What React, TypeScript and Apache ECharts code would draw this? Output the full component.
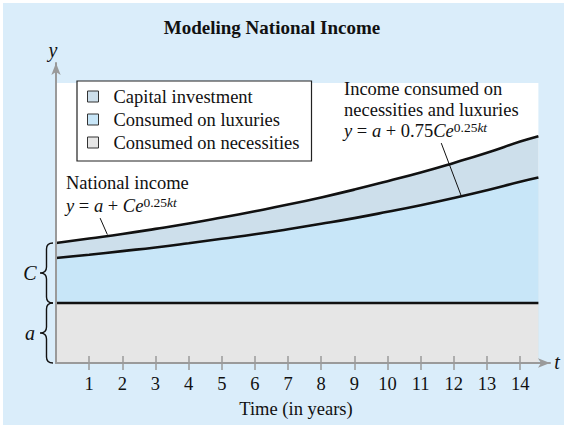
import React, { useEffect, useRef } from "react";
import * as echarts from "echarts";

// ---- data (y in arbitrary units, a = 2) ----
const years = [0, 1, 2, 3, 4, 5, 6, 7, 8, 9, 10, 11, 12, 13, 14, 14.55];
const nationalIncome = [4.0, 4.15, 4.3, 4.47, 4.65, 4.85, 5.06, 5.28, 5.52, 5.78, 6.06, 6.35, 6.67, 7.01, 7.38, 7.56];
const consumedIncome = [3.5, 3.61, 3.73, 3.85, 3.99, 4.14, 4.29, 4.46, 4.64, 4.83, 5.04, 5.26, 5.5, 5.76, 6.04, 6.18];
const necessitiesIncome = [2, 2, 2, 2, 2, 2, 2, 2, 2, 2, 2, 2, 2, 2, 2, 2];
const tickYears = [1, 2, 3, 4, 5, 6, 7, 8, 9, 10, 11, 12, 13, 14];
const seriesNames = ["Capital investment", "Consumed on luxuries", "Consumed on necessities"];
const constantA = 2;

const FONT = "'Liberation Serif', 'Times New Roman', serif";
const COL_CAPITAL = "#cddfeb";
const COL_LUX = "#c8e6f8";
const COL_NEC = "#e6e6e6";
const AXIS_COL = "#9a9a9a";
const INK = "#111";
const FS = 18.5;

const X_MAX = 14.9;
const Y_MAX = 10;
const PLOT_X_MAX = 14.55;
const PLOT_Y_MAX = 9.33;

function pairs(xs: number[], ys: number[]) {
  return xs.map((x, i) => [x, ys[i]]);
}

export default function App() {
  const ref = useRef<HTMLDivElement>(null);

  useEffect(() => {
    if (!ref.current) return;
    const chart = echarts.init(ref.current, undefined, { renderer: "svg" });

    const lineBase = {
      type: "line",
      smooth: true,
      symbol: "none",
      lineStyle: { color: INK, width: 2.6 },
    };

    chart.setOption({
      animation: false,
      backgroundColor: "transparent",
      grid: { left: 56, right: 14, top: 63, bottom: 62 },
      legend: {
        left: 77,
        top: 81,
        orient: "vertical",
        backgroundColor: "#ffffff",
        borderColor: "#222",
        borderWidth: 1.2,
        borderRadius: 0,
        padding: [6, 12, 9, 10],
        itemGap: 4,
        itemWidth: 11,
        itemHeight: 11,
        selectedMode: false,
        textStyle: { fontFamily: FONT, fontSize: FS, color: INK, padding: [0, 0, 0, 10], lineHeight: 19 },
        data: [
          { name: seriesNames[0], icon: "rect", itemStyle: { color: COL_CAPITAL, borderColor: "#333", borderWidth: 1 } },
          { name: seriesNames[1], icon: "rect", itemStyle: { color: COL_LUX, borderColor: "#333", borderWidth: 1 } },
          { name: seriesNames[2], icon: "rect", itemStyle: { color: COL_NEC, borderColor: "#333", borderWidth: 1 } },
        ],
      },
      xAxis: [
        {
          type: "value",
          min: 0,
          max: X_MAX,
          interval: 1,
          z: 10,
          splitLine: { show: false },
          axisLine: {
            show: true,
            lineStyle: { color: AXIS_COL, width: 2 },
            symbol: ["none", "arrow"],
            symbolSize: [7, 12],
          },
          axisTick: { show: true, customValues: tickYears, length: 7, lineStyle: { color: AXIS_COL, width: 1.5 } },
          axisLabel: { show: true, customValues: tickYears, margin: 11, fontFamily: FONT, fontSize: FS, color: INK },
        },
        {
          type: "value",
          min: 0,
          max: X_MAX,
          interval: 1,
          position: "bottom",
          z: 10,
          splitLine: { show: false },
          axisLine: { show: false },
          axisTick: { show: true, inside: true, customValues: tickYears, length: 7, lineStyle: { color: AXIS_COL, width: 1.5 } },
          axisLabel: { show: false },
        },
      ],
      yAxis: {
        type: "value",
        min: 0,
        max: Y_MAX,
        z: 10,
        splitLine: { show: false },
        axisTick: { show: false },
        axisLabel: { show: false },
        axisLine: {
          show: true,
          lineStyle: { color: AXIS_COL, width: 2 },
          symbol: ["none", "arrow"],
          symbolSize: [7, 12],
        },
      },
      series: [
        {
          type: "line",
          name: "plot-bg",
          data: [],
          z: 1,
          silent: true,
          markArea: {
            z: 1,
            silent: true,
            itemStyle: { color: "#ffffff", opacity: 1 },
            data: [[{ coord: [0, 0] }, { coord: [PLOT_X_MAX, PLOT_Y_MAX] }]],
          },
        },
        { ...lineBase, name: seriesNames[0], z: 3, data: pairs(years, nationalIncome), areaStyle: { color: COL_CAPITAL, opacity: 1 } },
        { ...lineBase, name: seriesNames[1], z: 4, data: pairs(years, consumedIncome), areaStyle: { color: COL_LUX, opacity: 1 } },
        { ...lineBase, name: seriesNames[2], z: 5, smooth: false, data: pairs(years, necessitiesIncome), areaStyle: { color: COL_NEC, opacity: 1 } },
      ],
    });

    const px = (x: number, y: number) => chart.convertToPixel({ gridIndex: 0 }, [x, y]) as number[];
    const origin = px(0, 0);
    const pA = px(0, constantA);
    const pC = px(0, nationalIncome[0]);
    const tipX = origin[0] - 16;
    const armX = origin[0] - 3;
    const braceD = (yt: number, yb: number) => {
      const xm = (tipX + armX) / 2;
      const ym = (yt + yb) / 2;
      const r = 6;
      return `M${armX},${yt} Q${xm},${yt} ${xm},${yt + r} L${xm},${ym - r} Q${xm},${ym} ${tipX},${ym} Q${xm},${ym} ${xm},${ym + r} L${xm},${yb - r} Q${xm},${yb} ${armX},${yb}`;
    };
    echarts.graphic.registerShape("braceC", echarts.graphic.extendPath(braceD(pC[1], pA[1]), {}));
    echarts.graphic.registerShape("braceA", echarts.graphic.extendPath(braceD(pA[1], origin[1]), {}));

    const l1a = px(11.62, 7.33);
    const l1b = px(12.23, 5.55);
    const l2a = px(1.33, 4.83);
    const l2b = px(1.55, 4.28);

    const txt = (text: string, x: number, y: number, extra: any = {}) => ({
      type: "text",
      z: 100,
      x,
      y,
      style: { text, fontFamily: FONT, fontSize: FS, fill: INK, textVerticalAlign: "middle", ...extra },
    });
    const rich = {
      n: { fontFamily: FONT, fontSize: FS, fill: INK, lineHeight: 22 },
      i: { fontFamily: FONT, fontSize: FS, fontStyle: "italic", fill: INK, lineHeight: 22 },
      s: { fontFamily: FONT, fontSize: 13.5, fill: INK, lineHeight: 14, verticalAlign: "top" },
      si: { fontFamily: FONT, fontSize: 13.5, fontStyle: "italic", fill: INK, lineHeight: 14, verticalAlign: "top" },
    };

    chart.setOption({
      graphic: [
        txt("Modeling National Income", 272, 27, { fontWeight: "bold", fontSize: 19, textAlign: "center" }),
        txt("y", 53, 50, { fontStyle: "italic", fontSize: 20, textAlign: "center" }),
        txt("t", 557, 362, { fontStyle: "italic", fontSize: 20, textAlign: "center" }),
        txt("C", 30, (pC[1] + pA[1]) / 2, { fontStyle: "italic", fontSize: 20, textAlign: "center" }),
        txt("a", 30, (pA[1] + origin[1]) / 2, { fontStyle: "italic", fontSize: 20, textAlign: "center" }),
        txt("Time (in years)", 296, 409, { textAlign: "center" }),
        txt("Income consumed on", 344, 89),
        txt("necessities and luxuries", 344, 110),
        txt("{i|y}{n| = }{i|a}{n| + 0.75}{i|Ce}{s|0.25}{si|kt}", 344, 131, { rich }),
        txt("National income", 66, 183),
        txt("{i|y}{n| = }{i|a}{n| + }{i|Ce}{s|0.25}{si|kt}", 66, 206, { rich }),
        {
          type: "line",
          z: 100,
          shape: { x1: l1a[0], y1: l1a[1], x2: l1b[0], y2: l1b[1] },
          style: { stroke: INK, lineWidth: 1 },
        },
        {
          type: "line",
          z: 100,
          shape: { x1: l2a[0], y1: l2a[1], x2: l2b[0], y2: l2b[1] },
          style: { stroke: INK, lineWidth: 1 },
        },
        { type: "braceC", z: 100, style: { stroke: INK, fill: "none", lineWidth: 1.4 } },
        { type: "braceA", z: 100, style: { stroke: INK, fill: "none", lineWidth: 1.4 } },
      ],
    });

    return () => chart.dispose();
  }, []);

  return (
    <div style={{ position: "absolute", left: 0, top: 0, width: 564, height: 425, background: "#ffffff" }}>
      <div style={{ position: "absolute", left: 3, top: 3, width: 561, height: 422, background: "#daedfa" }} />
      <div ref={ref} style={{ position: "absolute", left: 0, top: 0, width: 564, height: 425 }} />
    </div>
  );
}
